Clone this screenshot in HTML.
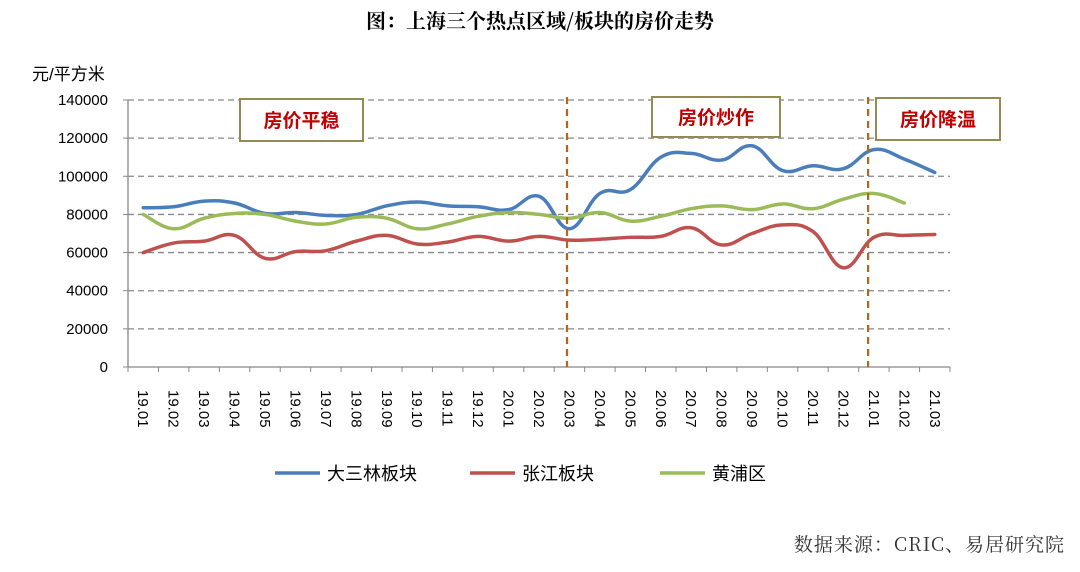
<!DOCTYPE html>
<html><head><meta charset="utf-8">
<style>
html,body{margin:0;padding:0;background:#fff;}
body{width:1080px;height:567px;overflow:hidden;}
svg text{font-family:"Liberation Sans","Noto Sans CJK SC",sans-serif;}
</style></head>
<body>
<svg width="1080" height="567" viewBox="0 0 1080 567">
<text x="540" y="28" text-anchor="middle" font-size="20" font-weight="bold" fill="#000" style="font-family:'Noto Serif CJK SC',serif">图：上海三个热点区域/板块的房价走势</text>
<text x="32" y="80" font-size="17" fill="#000">元/平方米</text>
<g id="grid"></g>
<g id="axes"></g>
<g id="series"></g>
<g id="annot"></g>
<g id="legend"></g>
<text x="1065" y="551" text-anchor="end" font-size="19" fill="#333" style="font-family:'Noto Serif CJK SC','Liberation Mono',serif;letter-spacing:1px">数据来源：CRIC、易居研究院</text>
</svg>
<script>
const categories=["19.01","19.02","19.03","19.04","19.05","19.06","19.07","19.08","19.09","19.10","19.11","19.12","20.01","20.02","20.03","20.04","20.05","20.06","20.07","20.08","20.09","20.10","20.11","20.12","21.01","21.02","21.03"];
const yTicks=[0,20000,40000,60000,80000,100000,120000,140000];
const seriesNames=["大三林板块","张江板块","黄浦区"];
const dasanlin=[83500,84000,87000,86000,80500,81000,79500,80000,84500,86500,84500,84000,82500,89500,72500,91000,93000,110000,112000,108500,116000,103000,105500,104000,114000,109000,102000];
const zhangjiang=[60000,65000,66000,69000,57000,60500,61000,66000,69000,64500,65500,68500,66000,68500,66500,67000,68000,68500,73000,64000,70000,74500,71000,52000,68000,69000,69500];
const huangpu=[80000,72500,78000,80500,80000,76500,75000,78500,78000,72500,75000,79000,81000,80000,78000,81000,76500,79000,83000,84500,82500,85500,83000,88000,91000,86000];
const colors=["#4a7ebb","#c0504d","#9bbb59"];
const phases=["房价平稳","房价炒作","房价降温"];

const NS="http://www.w3.org/2000/svg";
const L=128,R=950,T=100,B=367,yMax=140000;
const band=(R-L)/categories.length;
const xs=i=>L+band*(i+0.5);
const ys=v=>B-(v/yMax)*(B-T);
function mk(tag,attrs,parent){const e=document.createElementNS(NS,tag);for(const k in attrs)e.setAttribute(k,attrs[k]);parent.appendChild(e);return e;}
const grid=document.getElementById('grid'),axes=document.getElementById('axes'),ser=document.getElementById('series'),ann=document.getElementById('annot'),leg=document.getElementById('legend');

yTicks.forEach(v=>{
  const y=ys(v);
  if(v>0){const g=mk('line',{x1:L,x2:R,y1:y,y2:y,stroke:'#888','stroke-width':1.3,'stroke-dasharray':'6,4'},grid);
  
  }
  mk('line',{x1:L-5,x2:L,y1:y,y2:y,stroke:'#888'},axes);
  const t=mk('text',{x:108,y:y+5,'text-anchor':'end','font-size':15,fill:'#000'},axes);
  t.textContent=v;
  
  
});
const ya=mk('line',{x1:L,x2:L,y1:T,y2:B,stroke:'#888','stroke-width':1.3},axes);


const xa=mk('line',{x1:L,x2:R,y1:B,y2:B,stroke:'#888','stroke-width':1.3},axes);


for(let i=0;i<=categories.length;i++){mk('line',{x1:L+band*i,x2:L+band*i,y1:B,y2:B+5,stroke:'#888'},axes);}
categories.forEach((c,i)=>{
  const x=xs(i);
  const t=mk('text',{x:0,y:0,'font-size':15,fill:'#000',transform:`translate(${x-5},390) rotate(90)`},axes);
  t.textContent=c;
  
  
});

function smooth(pts){
  let d=`M${pts[0][0]},${pts[0][1]}`;
  for(let i=0;i<pts.length-1;i++){
    const p0=pts[i-1]||pts[i],p1=pts[i],p2=pts[i+1],p3=pts[i+2]||p2;
    const k=0.2;
    d+=` C${p1[0]+(p2[0]-p0[0])*k},${p1[1]+(p2[1]-p0[1])*k} ${p2[0]-(p3[0]-p1[0])*k},${p2[1]-(p3[1]-p1[1])*k} ${p2[0]},${p2[1]}`;
  }
  return d;
}
[dasanlin,zhangjiang,huangpu].forEach((arr,s)=>{
  const pts=arr.map((v,i)=>[xs(i),ys(v)]);
  const p=mk('path',{d:smooth(pts),fill:'none',stroke:colors[s],'stroke-width':3.5,'stroke-linejoin':'round','stroke-linecap':'round'},ser);
  
  
});

[[13.92,'divider-2003'],[23.81,'divider-2101']].forEach(([ci,n])=>{
  const x=xs(ci);
  const l=mk('line',{x1:x,x2:x,y1:T-3,y2:B,stroke:'#b5651d','stroke-width':2.2,'stroke-dasharray':'7,5'},ann);
  
  
});
const boxes=[[240,99,123,42],[652,97,128,40],[876,98,124,42]];
boxes.forEach((b,i)=>{
  const r=mk('rect',{x:b[0],y:b[1],width:b[2],height:b[3],fill:'#fff',stroke:'#948a54','stroke-width':2},ann);
  
  
  const t=mk('text',{x:b[0]+b[2]/2,y:b[1]+b[3]/2+7,'text-anchor':'middle','font-size':19,'font-weight':'bold',fill:'#c00000'},ann);
  t.textContent=phases[i];
  
  
});

const lx=[275,470,660];
seriesNames.forEach((n,i)=>{
  const l=mk('line',{x1:lx[i],x2:lx[i]+45,y1:473,y2:473,stroke:colors[i],'stroke-width':3.5},leg);
  
  
  const t=mk('text',{x:lx[i]+52,y:480,'font-size':18,fill:'#000'},leg);
  t.textContent=n;
  
  
});
</script>
</body></html>
